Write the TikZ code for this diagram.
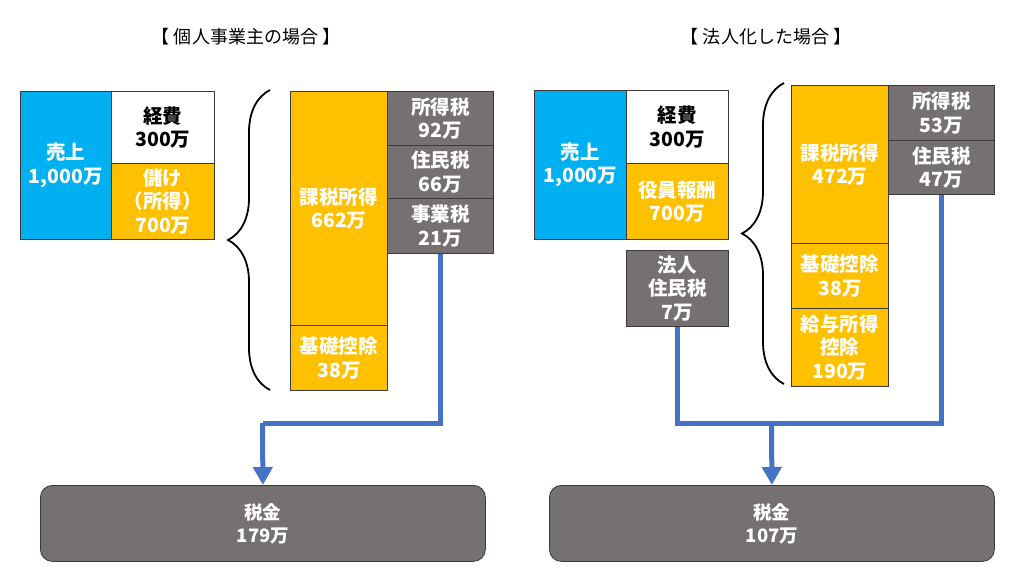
\documentclass[tikz,border=0pt]{standalone}
\usepackage{fontspec}
\setmainfont{Noto Sans CJK JP}
\usetikzlibrary{arrows.meta,decorations.pathreplacing,calc}
\definecolor{cblue}{HTML}{00B0F0}
\definecolor{corange}{HTML}{FFC000}
\definecolor{cgray}{HTML}{767171}
\definecolor{cline}{HTML}{4472C4}
\definecolor{cedge}{HTML}{3A3A3A}
\tikzset{
  cell/.style={draw=cedge, line width=0.8pt, anchor=north west, inner sep=0pt,
    align=center, font=\bfseries\fontsize{19.5}{23.5}\selectfont, text=white},
  bluecell/.style={cell, fill=cblue},
  orangecell/.style={cell, fill=corange},
  graycell/.style={cell, fill=cgray},
  whitecell/.style={cell, fill=white, text=black},
  taxbox/.style={draw=cedge, line width=0.8pt, fill=cgray, rounded corners=12pt,
    anchor=north west, inner sep=0pt, align=center, text=white,
    font=\bfseries\fontsize{18.5}{23}\selectfont},
  flow/.style={draw=cline, line width=5pt, line join=miter},
  flowarrow/.style={flow, -{Triangle[width=19pt,length=18pt]}},
  bracestyle/.style={draw=black, line width=1.8pt, decorate,
    decoration={brace, amplitude=42pt}},
  title/.style={font=\fontsize{18}{21}\selectfont, text=black}
}
\begin{document}
\begin{tikzpicture}[x=1pt, y=-1pt]
\useasboundingbox (0,0) rectangle (1024,576);

% ---------- left side ----------
\node[title] (t1) at (246,37) {【 個人事業主の場合 】};

\node[bluecell, minimum width=91pt, minimum height=148pt] (uri1) at (20,91) {売上\\1,000万};
\node[whitecell, minimum width=103pt, minimum height=72pt] (kei1) at (111,91) {経費\\300万};
\node[orangecell, minimum width=103pt, minimum height=76pt] (mok1) at (111,163) {儲け\\（所得）\\700万};

\node[orangecell, minimum width=97pt, minimum height=234pt] (kaz1) at (290,91) {課税所得\\662万};
\node[orangecell, minimum width=97pt, minimum height=65pt] (kis1) at (290,325) {基礎控除\\38万};

\node[graycell, minimum width=106pt, minimum height=54pt] (sho1) at (387,91) {所得税\\92万};
\node[graycell, minimum width=106pt, minimum height=53pt] (jum1) at (387,145) {住民税\\66万};
\node[graycell, minimum width=106pt, minimum height=55pt] (jig1) at (387,198) {事業税\\21万};

\coordinate (b1s) at (270,390);
\coordinate (b1e) at (270,90);
\draw[bracestyle] (b1s) -- (b1e);

\node[taxbox, minimum width=445pt, minimum height=76pt] (tax1) at (40,485) {税金\\179万};

\coordinate (m1) at (262.5,423);
\draw[flow] (jig1.south) |- (m1);
\draw[flowarrow] (m1) -- (tax1.north);

% ---------- right side ----------
\node[title] (t2) at (766,37) {【 法人化した場合 】};

\node[bluecell, minimum width=92pt, minimum height=149pt] (uri2) at (534,90) {売上\\1,000万};
\node[whitecell, minimum width=102pt, minimum height=73pt] (kei2) at (626,90) {経費\\300万};
\node[orangecell, minimum width=102pt, minimum height=76pt] (yak2) at (626,163) {役員報酬\\700万};
\node[graycell, minimum width=102pt, minimum height=76pt] (hoj2) at (626,250) {法人\\住民税\\7万};

\node[orangecell, minimum width=97pt, minimum height=158pt] (kaz2) at (791,85) {課税所得\\472万};
\node[orangecell, minimum width=97pt, minimum height=65pt] (kis2) at (791,243) {基礎控除\\38万};
\node[orangecell, minimum width=97pt, minimum height=78pt] (kyu2) at (791,308) {給与所得\\控除\\190万};

\node[graycell, minimum width=106pt, minimum height=55pt] (sho2) at (888,85) {所得税\\53万};
\node[graycell, minimum width=106pt, minimum height=54pt] (jum2) at (888,140) {住民税\\47万};

\coordinate (b2s) at (784,384);
\coordinate (b2e) at (784,83);
\draw[bracestyle] (b2s) -- (b2e);

\node[taxbox, minimum width=445pt, minimum height=76pt] (tax2) at (549,485) {税金\\107万};

\coordinate (m2) at (771.5,423);
\draw[flow] (hoj2.south) |- (m2 -| jum2.south) -- (jum2.south);
\draw[flowarrow] (m2) -- (tax2.north);
\end{tikzpicture}
\end{document}
